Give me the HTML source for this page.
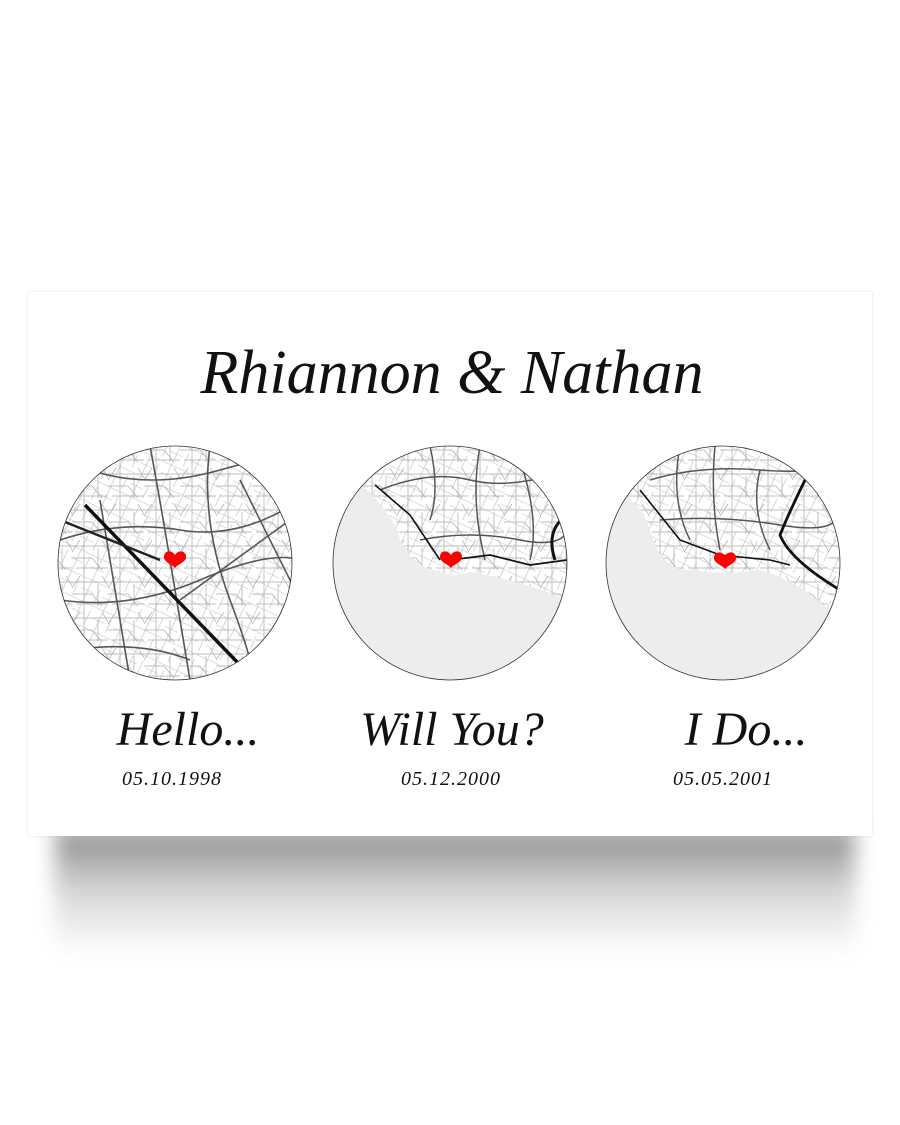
<!DOCTYPE html>
<html><head><meta charset="utf-8">
<style>
html,body{margin:0;padding:0;background:#fff;}
body{width:900px;height:1125px;position:relative;overflow:hidden;}
.shadow{position:absolute;left:55px;top:830px;width:800px;height:125px;background:linear-gradient(#8c8c8c,rgba(190,190,190,0.6) 50%,rgba(255,255,255,0));filter:blur(10px);}
.poster{position:absolute;left:28px;top:292px;width:844px;height:544px;background:#fff;box-shadow:0 0 3px rgba(0,0,0,0.12);}
svg{position:absolute;left:0;top:0;}
</style></head><body>
<div class="shadow"></div>
<div class="poster"></div>
<svg width="900" height="1125" viewBox="0 0 900 1125">
<defs>
<pattern id="st" width="36" height="36" patternUnits="userSpaceOnUse">
<path d="M0 6 H36 M0 18 H20 M12 0 V36 M26 8 V30 M4 28 H36 M20 18 L30 30 M0 12 L8 0 M30 0 L36 10" stroke="#aaa" stroke-width="0.7" fill="none"/>
</pattern>
<pattern id="st2" width="23" height="23" patternUnits="userSpaceOnUse" patternTransform="rotate(25)">
<path d="M0 4 H23 M7 0 V23 M0 15 H14 M18 9 V23" stroke="#bbb" stroke-width="0.6" fill="none"/>
</pattern>
<clipPath id="c1"><circle cx="175" cy="563" r="117"/></clipPath>
<clipPath id="c2"><circle cx="450" cy="563" r="117"/></clipPath>
<clipPath id="c3"><circle cx="723" cy="563" r="117"/></clipPath>
<path id="hrt" d="M0 7 C-3 3 -12 1 -11 -5 C-10 -11 -3 -11 0 -6 C3 -11 10 -11 11 -5 C12 1 3 3 0 7 Z" fill="#f00"/>
</defs>

<text x="452" y="393" text-anchor="middle" font-family="Liberation Serif, serif" font-style="italic" font-size="62" fill="#111">Rhiannon &amp; Nathan</text>

<!-- map 1 -->
<g clip-path="url(#c1)">
<rect x="58" y="446" width="234" height="234" fill="#fff"/>
<rect x="58" y="446" width="234" height="234" fill="url(#st)"/>
<rect x="58" y="446" width="234" height="234" fill="url(#st2)"/>
<g stroke="#555" stroke-width="1.6" fill="none">
<path d="M60 540 Q120 520 180 530 T300 500"/>
<path d="M60 600 Q130 610 200 580 T300 560"/>
<path d="M150 446 Q160 500 170 560 T190 680"/>
<path d="M210 446 Q200 520 230 600 T250 680"/>
<path d="M90 470 Q150 490 220 470 T300 460"/>
<path d="M70 650 Q140 640 190 660"/>
<path d="M240 480 Q270 540 300 600"/>
<path d="M100 500 L130 680"/>
<path d="M180 600 L290 520"/>
</g>
<path d="M85 505 L240 665" stroke="#111" stroke-width="3.5" fill="none"/>
<path d="M60 520 L160 560" stroke="#222" stroke-width="2.5" fill="none"/>
</g>
<circle cx="175" cy="563" r="117" fill="none" stroke="#333" stroke-width="0.8"/>
<use href="#hrt" x="175" y="561"/>

<!-- map 2 -->
<g clip-path="url(#c2)">
<rect x="333" y="446" width="234" height="234" fill="#fff"/>
<rect x="333" y="446" width="234" height="234" fill="url(#st)"/>
<rect x="333" y="446" width="234" height="234" fill="url(#st2)"/>
<g stroke="#555" stroke-width="1.5" fill="none">
<path d="M380 490 Q430 470 470 480 T570 470"/>
<path d="M420 540 Q470 530 520 540 T570 520"/>
<path d="M430 446 Q440 490 430 520"/>
<path d="M480 446 Q470 500 485 560"/>
<path d="M520 460 Q540 520 530 560"/>
</g>
<path d="M333 478 Q365 480 380 505 Q395 520 400 540 Q410 565 440 572 Q455 578 470 572 Q520 580 567 600 L567 680 L333 680 Z" fill="#ededed"/>
<path d="M375 485 L410 515 L440 560" stroke="#111" stroke-width="1.6" fill="none"/>
<path d="M450 560 L490 555 L530 565 L567 560" stroke="#111" stroke-width="1.8" fill="none"/>
<path d="M567 515 Q545 530 555 560" stroke="#111" stroke-width="3" fill="none"/>
</g>
<circle cx="450" cy="563" r="117" fill="none" stroke="#333" stroke-width="0.8"/>
<use href="#hrt" x="451" y="561"/>

<!-- map 3 -->
<g clip-path="url(#c3)">
<rect x="606" y="446" width="234" height="234" fill="#fff"/>
<rect x="606" y="446" width="234" height="234" fill="url(#st)"/>
<rect x="606" y="446" width="234" height="234" fill="url(#st2)"/>
<g stroke="#555" stroke-width="1.5" fill="none">
<path d="M650 480 Q700 465 760 470 T840 460"/>
<path d="M660 520 Q720 515 780 525 T840 510"/>
<path d="M680 446 Q670 500 690 540"/>
<path d="M715 446 Q710 500 720 550"/>
<path d="M760 470 Q750 510 770 550"/>
</g>
<path d="M606 480 Q640 500 650 530 Q660 570 690 570 Q720 575 760 570 Q800 580 840 620 L840 680 L606 680 Z" fill="#ededed"/>
<path d="M640 490 L680 540 L720 555 L770 560 L790 565" stroke="#111" stroke-width="1.6" fill="none"/>
<path d="M810 470 Q790 510 780 535 Q790 560 840 590" stroke="#111" stroke-width="2.8" fill="none"/>
</g>
<circle cx="723" cy="563" r="117" fill="none" stroke="#333" stroke-width="0.8"/>
<use href="#hrt" x="725" y="562"/>

<g font-family="Liberation Serif, serif" font-style="italic" fill="#111">
<text x="188" y="745" text-anchor="middle" font-size="48">Hello...</text>
<text x="452" y="745" text-anchor="middle" font-size="48">Will You?</text>
<text x="746" y="745" text-anchor="middle" font-size="48">I Do...</text>
<text x="172" y="785" text-anchor="middle" font-size="20" letter-spacing="1">05.10.1998</text>
<text x="451" y="785" text-anchor="middle" font-size="20" letter-spacing="1">05.12.2000</text>
<text x="723" y="785" text-anchor="middle" font-size="20" letter-spacing="1">05.05.2001</text>
</g>
</svg>
</body></html>
